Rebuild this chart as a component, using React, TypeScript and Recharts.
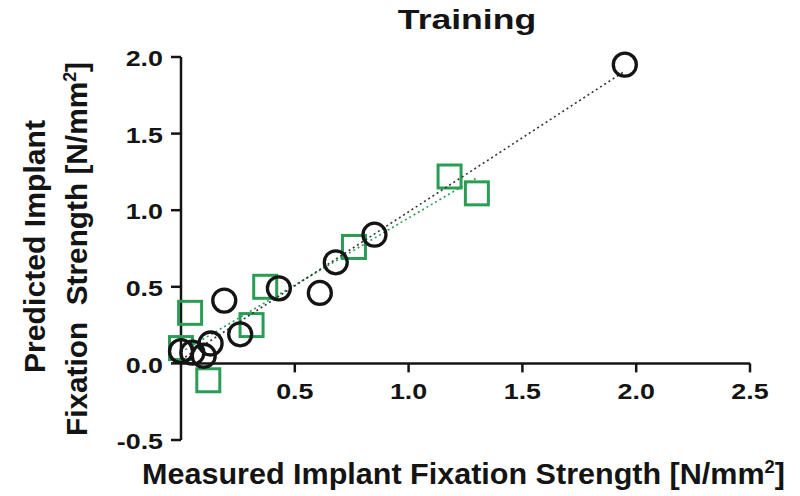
import React from 'react';
import { ScatterChart, Scatter, XAxis, YAxis, ReferenceLine } from 'recharts';

// black circles
const circleX = [0.0, 0.05, 0.1, 0.13, 0.19, 0.26, 0.43, 0.61, 0.68, 0.85, 1.95];
const circleY = [0.08, 0.07, 0.05, 0.13, 0.41, 0.19, 0.49, 0.46, 0.66, 0.84, 1.95];
// green squares
const squareX = [0.0, 0.04, 0.12, 0.31, 0.37, 0.76, 1.18, 1.3];
const squareY = [0.1, 0.33, -0.11, 0.25, 0.5, 0.76, 1.22, 1.11];

const xTicks = [0.5, 1.0, 1.5, 2.0, 2.5];
const yTicks = [-0.5, 0.0, 0.5, 1.0, 1.5, 2.0];

const circles = circleX.map((x, i) => ({ x, y: circleY[i] }));
const squares = squareX.map((x, i) => ({ x, y: squareY[i] }));

const W = 800;
const H = 496;
const TOP = 57;
const X_AXIS_H = 56;
const PLOT_H = H - TOP - X_AXIS_H;
const Y_MIN = -0.5;
const Y_MAX = 2.0;
const FONT = '"Liberation Sans", Arial, sans-serif';
const INK = '#141414';
const GREEN = '#2a9d55';
const STRETCH = 1.22;

const CircleShape = (props: any) => (
  <circle cx={props.cx} cy={props.cy} r={11.5} fill="none" stroke={INK} strokeWidth={3.3} />
);

const SquareShape = (props: any) => (
  <rect x={props.cx - 11.5} y={props.cy - 11.5} width={23} height={23} fill="none" stroke={GREEN} strokeWidth={3} />
);

// x ticks sit on the y=0 line, not at the bottom of the plot
const XTick = (props: any) => {
  const { x, y, payload } = props;
  const zeroY = y - (PLOT_H * (0 - Y_MIN)) / (Y_MAX - Y_MIN);
  return (
    <g>
      <line x1={x} x2={x} y1={zeroY} y2={zeroY + 9} stroke={INK} strokeWidth={2.5} />
      <text
        transform={`translate(${x},${zeroY + 36}) scale(${STRETCH},1)`}
        textAnchor="middle"
        fontFamily={FONT}
        fontWeight="bold"
        fontSize={22}
        fill={INK}
      >
        {payload.value.toFixed(1)}
      </text>
    </g>
  );
};

const YTick = (props: any) => {
  const { x, y, payload } = props;
  return (
    <text
      transform={`translate(${x},${y}) scale(${STRETCH},1)`}
      textAnchor="end"
      dy="0.42em"
      fontFamily={FONT}
      fontWeight="bold"
      fontSize={22}
      fill={INK}
    >
      {payload.value.toFixed(1)}
    </text>
  );
};

export default function App() {
  return (
    <div style={{ position: 'absolute', left: 0, top: 0, width: W, height: H, background: '#fff' }}>
      <ScatterChart width={W} height={H} margin={{ top: TOP, right: 50, bottom: 0, left: 0 }}>
        <XAxis
          type="number"
          dataKey="x"
          domain={[0, 2.5]}
          ticks={xTicks}
          height={X_AXIS_H}
          axisLine={false}
          tickLine={false}
          tickSize={0}
          tickMargin={0}
          tick={<XTick />}
          interval={0}
        />
        <YAxis
          type="number"
          dataKey="y"
          domain={[Y_MIN, Y_MAX]}
          ticks={yTicks}
          width={181}
          axisLine={{ stroke: INK, strokeWidth: 2.5 }}
          tickLine={{ stroke: INK, strokeWidth: 2.5 }}
          tickSize={10}
          tickMargin={8}
          tick={<YTick />}
          interval={0}
        />
        <ReferenceLine y={0} stroke={INK} strokeWidth={2.5} />
        <Scatter
          data={squares}
          shape={<SquareShape />}
          line={{ stroke: GREEN, strokeWidth: 1.6, strokeDasharray: '2 3' }}
          lineType="fitting"
          isAnimationActive={false}
        />
        <Scatter
          data={circles}
          shape={<CircleShape />}
          line={{ stroke: '#333', strokeWidth: 1.6, strokeDasharray: '2 3' }}
          lineType="fitting"
          isAnimationActive={false}
        />
      </ScatterChart>
      <svg
        width={W}
        height={H}
        style={{ position: 'absolute', left: 0, top: 0, pointerEvents: 'none' }}
        fontFamily={FONT}
        fontWeight="bold"
        fill={INK}
      >
        <text transform={`translate(467,29) scale(1.27,1)`} textAnchor="middle" fontSize={28}>
          Training
        </text>
        <text x={142} y={484} fontSize={30} textLength={643} lengthAdjust="spacingAndGlyphs">
          Measured Implant Fixation Strength [N/mm<tspan dy={-11} fontSize={18}>2</tspan>
          <tspan dy={11}>]</tspan>
        </text>
        <text
          transform="translate(45,373) rotate(-90)"
          fontSize={30}
          textLength={253}
          lengthAdjust="spacingAndGlyphs"
        >
          Predicted Implant
        </text>
        <text
          transform="translate(87,436) rotate(-90)"
          fontSize={30}
          textLength={374}
          lengthAdjust="spacingAndGlyphs"
          xmlSpace="preserve"
        >
          Fixation  Strength [N/mm<tspan dy={-11} fontSize={18}>2</tspan>
          <tspan dy={11}>]</tspan>
        </text>
      </svg>
    </div>
  );
}
